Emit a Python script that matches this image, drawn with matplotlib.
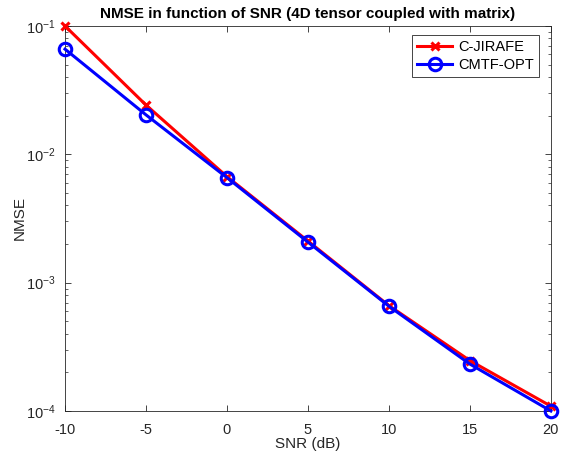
import matplotlib
matplotlib.use('Agg')
import matplotlib.pyplot as plt
from matplotlib.ticker import LogLocator, NullFormatter

plt.rcParams['font.family'] = ['Liberation Sans', 'DejaVu Sans']
plt.rcParams['mathtext.fontset'] = 'custom'
plt.rcParams['mathtext.rm'] = 'Liberation Sans'
plt.rcParams['mathtext.it'] = 'Liberation Sans:italic'

# data
snr_db = [-10, -5, 0, 5, 10, 15, 20]
nmse_cjirafe = [1.0e-1, 2.42e-2, 6.7e-3, 2.11e-3, 6.62e-4, 2.47e-4, 1.09e-4]
nmse_cmtf = [6.6e-2, 2.03e-2, 6.58e-3, 2.07e-3, 6.55e-4, 2.32e-4, 1.0e-4]
x_ticks = [-10, -5, 0, 5, 10, 15, 20]

axis_grey = '#262626'

fig = plt.figure(figsize=(5.61, 4.59), dpi=100)
ax = fig.add_axes([0.1159, 0.1046, 0.8661, 0.8388])

ax.semilogy(snr_db, nmse_cjirafe, color='red', lw=2.2, marker='x', ms=6,
            mew=2.2, label='C-JIRAFE', clip_on=False, zorder=3)
ax.semilogy(snr_db, nmse_cmtf, color='blue', lw=2.2, marker='o', ms=9,
            mfc='none', mew=2.2, label='CMTF-OPT', clip_on=False, zorder=4)

ax.set_xlim(-10, 20)
ax.set_ylim(1e-4, 1e-1)
ax.set_xticks(x_ticks)
ax.set_xticklabels([str(t) for t in x_ticks])
ax.yaxis.set_major_locator(LogLocator(base=10, numticks=10))
ax.yaxis.set_minor_locator(LogLocator(base=10, subs=range(2, 10), numticks=10))
ax.yaxis.set_minor_formatter(NullFormatter())

ax.tick_params(which='both', direction='in', top=True, right=True,
               colors=axis_grey, labelcolor=axis_grey, labelsize=10.5)
ax.tick_params(which='major', length=4, width=0.6)
ax.tick_params(which='minor', length=2.5, width=0.5)
ax.tick_params(axis='x', pad=9)
ax.tick_params(axis='y', pad=7)
for s in ax.spines.values():
    s.set_color(axis_grey)
    s.set_linewidth(0.6)

ax.set_xlabel('SNR (dB)', fontsize=11, color=axis_grey, labelpad=0)
ax.set_ylabel('NMSE', fontsize=11, color=axis_grey, labelpad=-1)
ax.set_title('NMSE in function of SNR (4D tensor coupled with matrix)',
             fontsize=11, fontweight='bold', color='black', pad=6)

leg = ax.legend(loc='upper right', fontsize=10.5, fancybox=False,
                framealpha=1, edgecolor=axis_grey, handlelength=2.4,
                borderpad=0.35, labelspacing=0.25, handletextpad=0.4,
                bbox_to_anchor=(0.99, 0.995))
leg.get_frame().set_linewidth(0.6)

fig.savefig('out.png', dpi=100)
